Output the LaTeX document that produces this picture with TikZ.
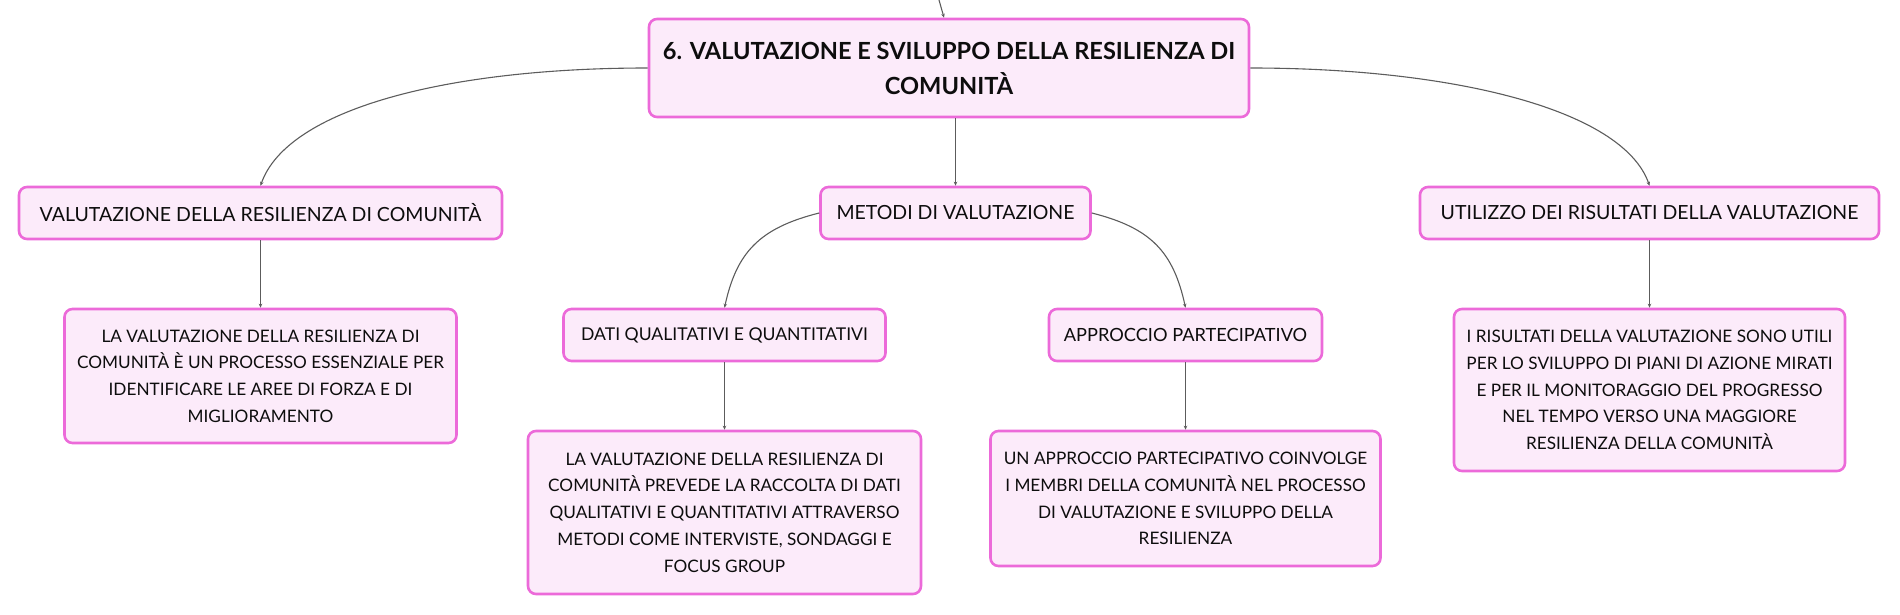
\documentclass[tikz,border=0pt]{standalone}
\usepackage{fontspec}
\setmainfont{Lato}
\usetikzlibrary{arrows.meta}
\definecolor{boxline}{HTML}{EC6AD9}
\definecolor{boxfill}{HTML}{FCEBFA}
\definecolor{linkgray}{HTML}{5C5C5C}

\begin{document}
\begin{tikzpicture}
  [x=1pt,y=-1pt,every node/.style={draw=boxline,fill=boxfill,line width=2.6pt,rounded corners=8pt,align=center,inner sep=0pt,text=black!95}]
  \tikzstyle{topic} = [minimum height=52pt,font=\fontsize{19.5}{24}\selectfont]
  \tikzstyle{note} = [font=\fontsize{17.2}{26.7}\selectfont]
  \tikzstyle{link} = [draw=linkgray,line width=1.1pt,rounded corners=0pt,-{Stealth[length=4pt,width=3.5pt]}]
  \useasboundingbox (0,0) rectangle (1900,615);
  \coordinate (up) at (939,0);
  \node[minimum width=600pt,minimum height=98pt,font=\fontsize{23.6}{35}\selectfont\bfseries] (root) at (949,68) {6. VALUTAZIONE E SVILUPPO DELLA RESILIENZA DI\\COMUNITÀ};
  \node[topic,minimum width=483pt] (valut) at (260.5,213) {VALUTAZIONE DELLA RESILIENZA DI COMUNITÀ};
  \node[topic,minimum width=270pt] (metodi) at (955.5,213) {METODI DI VALUTAZIONE};
  \node[topic,minimum width=459pt] (util) at (1649.5,213) {UTILIZZO DEI RISULTATI DELLA VALUTAZIONE};
  \node[topic,minimum width=322pt,font=\fontsize{17.6}{24}\selectfont] (dati) at (724.5,335) {DATI QUALITATIVI E QUANTITATIVI};
  \node[topic,minimum width=273pt,font=\fontsize{18.2}{24}\selectfont] (appr) at (1185.5,335) {APPROCCIO PARTECIPATIVO};
  \node[note,minimum width=392pt,minimum height=134pt] (noteval) at (260.5,376) {LA VALUTAZIONE DELLA RESILIENZA DI\\COMUNITÀ È UN PROCESSO ESSENZIALE PER\\IDENTIFICARE LE AREE DI FORZA E DI\\MIGLIORAMENTO};
  \node[note,minimum width=393pt,minimum height=163pt] (notedati) at (724.5,512.5) {LA VALUTAZIONE DELLA RESILIENZA DI\\COMUNITÀ PREVEDE LA RACCOLTA DI DATI\\QUALITATIVI E QUANTITATIVI ATTRAVERSO\\METODI COME INTERVISTE, SONDAGGI E\\FOCUS GROUP};
  \node[note,minimum width=390pt,minimum height=135pt] (noteappr) at (1185.5,498.5) {UN APPROCCIO PARTECIPATIVO COINVOLGE\\I MEMBRI DELLA COMUNITÀ NEL PROCESSO\\DI VALUTAZIONE E SVILUPPO DELLA\\RESILIENZA};
  \node[note,minimum width=391pt,minimum height=162pt] (noteutil) at (1649.5,390) {I RISULTATI DELLA VALUTAZIONE SONO UTILI\\PER LO SVILUPPO DI PIANI DI AZIONE MIRATI\\E PER IL MONITORAGGIO DEL PROGRESSO\\NEL TEMPO VERSO UNA MAGGIORE\\RESILIENZA DELLA COMUNITÀ};
  \draw[link] (up) -- ([xshift=-5pt]root.north);
  \draw[link] (root.south -| metodi.north) -- (metodi.north);
  \draw[link] (root.west) .. controls +(-200,0) and +(27,-77) .. (valut.north);
  \draw[link] (root.east) .. controls +(200,0) and +(-27,-77) .. (util.north);
  \draw[link] (metodi.west) .. controls +(-60,15) and +(12,-55) .. (dati.north);
  \draw[link] (metodi.east) .. controls +(60,15) and +(-12,-55) .. (appr.north);
\foreach \source /\dest in {valut/noteval,dati/notedati,appr/noteappr,util/noteutil}
   \draw[link] (\source.south) -- (\dest.north);
\end{tikzpicture}
\end{document}
